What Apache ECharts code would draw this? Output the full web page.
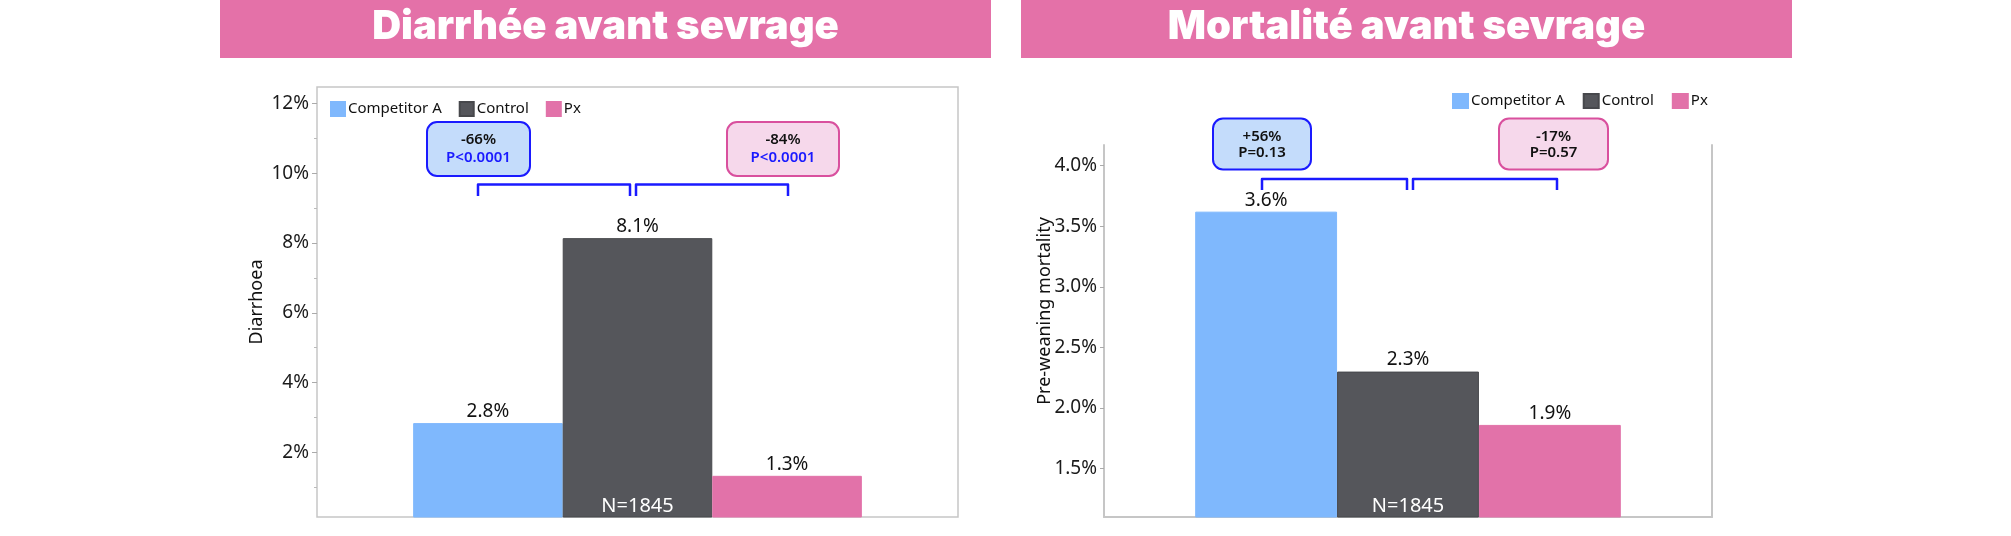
<!DOCTYPE html>
<html>
<head>
<meta charset="utf-8">
<script src="https://cdn.jsdelivr.net/npm/echarts@6/dist/echarts.min.js"></script>
<style>
html,body{margin:0;padding:0;background:#fff;}
#chart{width:2011px;height:536px;}
</style>
</head>
<body>
<div id="chart"></div>
<script>
// ---- data ----
const groups = ['Competitor A', 'Control', 'Px'];
const category = ['Trial'];
const diarrhoeaValues = [2.84, 8.14, 1.33];
const diarrhoeaLabels = ['2.8%', '8.1%', '1.3%'];
const mortalityValues = [3.62, 2.30, 1.86];
const mortalityLabels = ['3.6%', '2.3%', '1.9%'];
const diarrhoeaTicks = [2, 4, 6, 8, 10, 12];
const diarrhoeaMinorTicks = [1, 3, 5, 7, 9, 11];
const mortalityTicks = [1.5, 2.0, 2.5, 3.0, 3.5, 4.0];
const diarrhoeaRange = [0.15, 12.47];
const mortalityRange = [1.10, 4.17];
const sampleLabel = 'N=1845';
const titles = ['Diarrhée avant sevrage', 'Mortalité avant sevrage'];
const axisNames = ['Diarrhoea', 'Pre-weaning mortality'];
const diarrhoeaCompare = [['-66%', 'P<0.0001'], ['-84%', 'P<0.0001']];
const mortalityCompare = [['+56%', 'P=0.13'], ['-17%', 'P=0.57']];

// ---- style ----
const colors = ['#7fb8fd', '#55565b', '#e272a9'];
const F = "'Noto Sans', 'Open Sans', sans-serif";
const axisGray = '#c6c6c6';
const blue = '#1a1aff';
const pinkLine = '#d9509e';

function barSeries(values, labels, xi, yi) {
  return groups.map((g, i) => {
    const s = {
      name: g, type: 'bar', xAxisIndex: xi, yAxisIndex: yi,
      data: [values[i]], barGap: '0%', barCategoryGap: '30%', clip: true,
      itemStyle: { color: colors[i], borderColor: i === 1 ? '#47484c' : colors[i], borderWidth: 1 },
      label: { show: true, position: 'top', distance: 2, formatter: labels[i], fontSize: 19, color: '#111', fontFamily: F }
    };
    if (i === 1) {
      const yMin = yi === 0 ? diarrhoeaRange[0] : mortalityRange[0];
      s.markPoint = {
        symbol: 'rect', symbolSize: 1, itemStyle: { color: 'rgba(0,0,0,0)' },
        label: { show: true, position: 'top', distance: 0, formatter: sampleLabel, color: '#fff', fontSize: 20, fontFamily: F },
        data: [{ coord: [category[0], yMin] }]
      };
    }
    return s;
  });
}

function bracket(x1, x2, yTop, yBot) {
  return { type: 'polyline', shape: { points: [[x1, yBot], [x1, yTop], [x2, yTop], [x2, yBot]] },
    style: { stroke: blue, lineWidth: 2.5, fill: null, lineJoin: 'round' }, z: 20 };
}
function box(x, y, w, h, fill, stroke) {
  return { type: 'rect', shape: { x: x, y: y, width: w, height: h, r: 10 }, style: { fill: fill, stroke: stroke, lineWidth: 2 }, z: 20 };
}
function txt(x, y, s, color, size, weight, fontFamily) {
  return { type: 'text', x: x, y: y, style: { text: s, fill: color, fontSize: size, fontWeight: weight || 'normal', fontFamily: fontFamily || F, align: 'center', verticalAlign: 'middle' }, z: 21 };
}

const graphics = [
  { type: 'rect', shape: { x: 220, y: 0, width: 771, height: 58 }, style: { fill: '#e471a8' }, z: 1 },
  { type: 'rect', shape: { x: 1021, y: 0, width: 771, height: 58 }, style: { fill: '#e471a8' }, z: 1 },
  txt(605.5, 27, titles[0], '#fff', 40, 900, "Inter, 'Noto Sans', sans-serif"),
  txt(1406.5, 27, titles[1], '#fff', 40, 900, "Inter, 'Noto Sans', sans-serif"),
  Object.assign(txt(256.7, 302, axisNames[0], '#111', 18, 'normal'), { rotation: Math.PI / 2 }),
  Object.assign(txt(1045, 311, axisNames[1], '#111', 18, 'normal'), { rotation: Math.PI / 2 }),
  // left annotations
  bracket(478, 630, 184.5, 196), bracket(636, 788, 184.5, 196),
  box(427, 122, 103, 54, '#c4dcfb', blue),
  txt(478.5, 140, diarrhoeaCompare[0][0], '#111', 15, 600),
  txt(478.5, 157.5, diarrhoeaCompare[0][1], blue, 15, 600),
  box(727, 122, 112, 54, '#f6d8eb', pinkLine),
  txt(783, 140, diarrhoeaCompare[1][0], '#111', 15, 600),
  txt(783, 157.5, diarrhoeaCompare[1][1], blue, 15, 600),
  // right annotations
  bracket(1262, 1407, 179, 190), bracket(1413, 1557, 179, 190),
  box(1213, 118.5, 98, 51, '#c4dcfb', blue),
  txt(1262, 136.5, mortalityCompare[0][0], '#111', 15, 600),
  txt(1262, 152.5, mortalityCompare[0][1], '#111', 15, 600),
  box(1499, 118.5, 109, 51, '#f6d8eb', pinkLine),
  txt(1553.5, 136.5, mortalityCompare[1][0], '#111', 15, 600),
  txt(1553.5, 152.5, mortalityCompare[1][1], '#111', 15, 600)
];

const chart = echarts.init(document.getElementById('chart'), null, { renderer: 'canvas' });
const option = {
  animation: false,
  backgroundColor: '#fff',
  textStyle: { fontFamily: F },
  legend: [
    { data: groups, left: 325, top: 96, icon: 'rect', itemWidth: 14, itemHeight: 14, itemGap: 17,
      textStyle: { fontSize: 15, color: '#111', fontFamily: F, padding: [0, 0, 0, -2] } },
    { data: groups, left: 1447, top: 88, icon: 'rect', itemWidth: 15, itemHeight: 14, itemGap: 18,
      textStyle: { fontSize: 15, color: '#111', fontFamily: F, padding: [0, 0, 0, -2] } }
  ],
  grid: [
    { left: 317, top: 87, width: 641, height: 430, show: true, borderColor: axisGray, borderWidth: 1.5, backgroundColor: '#fff' },
    { left: 1104, top: 145, width: 608, height: 372 }
  ],
  xAxis: [
    { gridIndex: 0, type: 'category', data: category, axisLine: { show: false }, axisTick: { show: false }, axisLabel: { show: false } },
    { gridIndex: 1, type: 'category', data: category, axisLine: { show: true, lineStyle: { color: axisGray, width: 2 } }, axisTick: { show: false }, axisLabel: { show: false } }
  ],
  yAxis: [
    { gridIndex: 0, type: 'value', position: 'left', min: diarrhoeaRange[0], max: diarrhoeaRange[1],
      axisLine: { show: false }, splitLine: { show: false },
      axisTick: { show: true, length: 5, customValues: diarrhoeaTicks, lineStyle: { color: '#aaa' } },
      axisLabel: { customValues: diarrhoeaTicks, formatter: v => v + '%', fontSize: 19, color: '#1a1a1a', margin: 8, fontFamily: F } },
    { gridIndex: 0, type: 'value', position: 'left', offset: 0, min: diarrhoeaRange[0], max: diarrhoeaRange[1],
      axisLine: { show: false }, splitLine: { show: false }, axisLabel: { show: false },
      axisTick: { show: true, length: 3, customValues: diarrhoeaMinorTicks, lineStyle: { color: '#bbb' } } },
    { gridIndex: 1, type: 'value', position: 'left', min: mortalityRange[0], max: mortalityRange[1],
      axisLine: { show: true, lineStyle: { color: axisGray, width: 2 } }, splitLine: { show: false },
      axisTick: { show: true, length: 4, customValues: mortalityTicks, lineStyle: { color: '#aaa' } },
      axisLabel: { customValues: mortalityTicks, formatter: v => v.toFixed(1) + '%', fontSize: 19, color: '#1a1a1a', margin: 7, fontFamily: F } },
    { gridIndex: 1, type: 'value', position: 'right', min: mortalityRange[0], max: mortalityRange[1],
      axisLine: { show: true, lineStyle: { color: axisGray, width: 2 } }, splitLine: { show: false },
      axisTick: { show: false }, axisLabel: { show: false } }
  ],
  series: [].concat(barSeries(diarrhoeaValues, diarrhoeaLabels, 0, 0), barSeries(mortalityValues, mortalityLabels, 1, 2)),
  graphic: { elements: graphics }
};
chart.setOption(option);
</script>
</body>
</html>
